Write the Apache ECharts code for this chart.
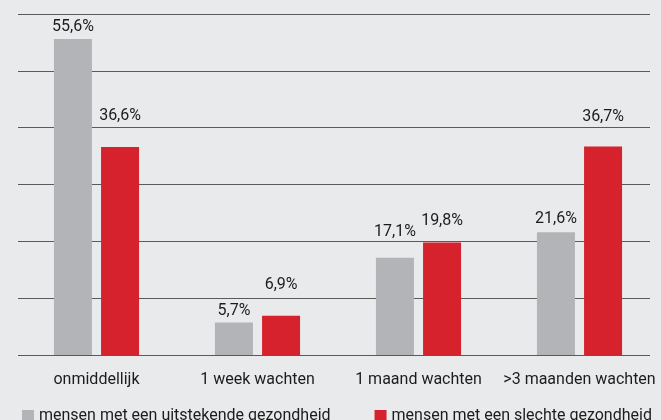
<!DOCTYPE html>
<html>
<head>
<meta charset="utf-8" />
<title>Wachttijd</title>
<style>
  html, body { margin: 0; padding: 0; background: #e9eaec; }
  #chartmain { width: 661px; height: 420px; }
</style>
</head>
<body>
<div id="chartmain"></div>
<script src="https://cdn.jsdelivr.net/npm/echarts@6/dist/echarts.min.js"></script>
<script>
// data
var categories = ['onmiddellijk', '1 week wachten', '1 maand wachten', '>3 maanden wachten'];
var seriesNames = ['mensen met een uitstekende gezondheid', 'mensen met een slechte gezondheid'];
var goedValues = [55.6, 5.7, 17.1, 21.6];
var slechtValues = [36.6, 6.9, 19.8, 36.7];

// extra lift of the value labels, as in the picture
var goedLift = [0, 0, 14, 1];
var slechtLift = [19, 19, 9, 17];

function fmt(v) {
  return String(v.toFixed(1)).replace('.', ',') + '%';
}

function buildData(values, lift) {
  var out = [];
  for (var i = 0; i < values.length; i++) {
    out.push({ value: values[i], label: { offset: [0, -lift[i]] } });
  }
  return out;
}

var txt = { fontFamily: 'Roboto', fontSize: 16, color: '#1c1c1c' };

var option = {
  backgroundColor: '#e9eaec',
  animation: false,
  grid: [
    { left: 18, right: 11, top: 14, bottom: 65 },   // gridlines
    { left: 16, right: 1, top: 14, bottom: 65 }     // bars
  ],
  legend: {
    left: 17,
    top: 403,
    itemWidth: 12,
    itemHeight: 12,
    itemGap: 44,
    icon: 'rect',
    textStyle: txt,
    data: seriesNames
  },
  xAxis: [
    { type: 'category', gridIndex: 0, show: false, data: categories },
    {
      type: 'category', gridIndex: 1, data: categories,
      axisLine: { show: false }, axisTick: { show: false },
      axisLabel: Object.assign({ margin: 17, interval: 0 }, txt)
    }
  ],
  yAxis: [
    {
      type: 'value', gridIndex: 0, min: 0, max: 60, interval: 10,
      axisLabel: { show: false }, axisLine: { show: false }, axisTick: { show: false },
      splitLine: { lineStyle: { color: '#5a5a5a', width: 1.2 } }
    },
    {
      type: 'value', gridIndex: 1, min: 0, max: 60, interval: 10, show: false,
      splitLine: { show: false }
    }
  ],
  series: [
    {
      name: seriesNames[0], type: 'bar', xAxisIndex: 1, yAxisIndex: 1,
      barWidth: 38, barGap: '24%',
      itemStyle: { color: '#b3b4b7' },
      label: Object.assign({ show: true, position: 'top', distance: 4,
        formatter: function (p) { return fmt(p.value); } }, txt),
      data: buildData(goedValues, goedLift)
    },
    {
      name: seriesNames[1], type: 'bar', xAxisIndex: 1, yAxisIndex: 1,
      barWidth: 38, barGap: '24%',
      itemStyle: { color: '#d5222c' },
      label: Object.assign({ show: true, position: 'top', distance: 4,
        formatter: function (p) { return fmt(p.value); } }, txt),
      data: buildData(slechtValues, slechtLift)
    }
  ]
};

var myChart = echarts.init(document.getElementById('chartmain'));
myChart.setOption(option);
</script>
</body>
</html>
